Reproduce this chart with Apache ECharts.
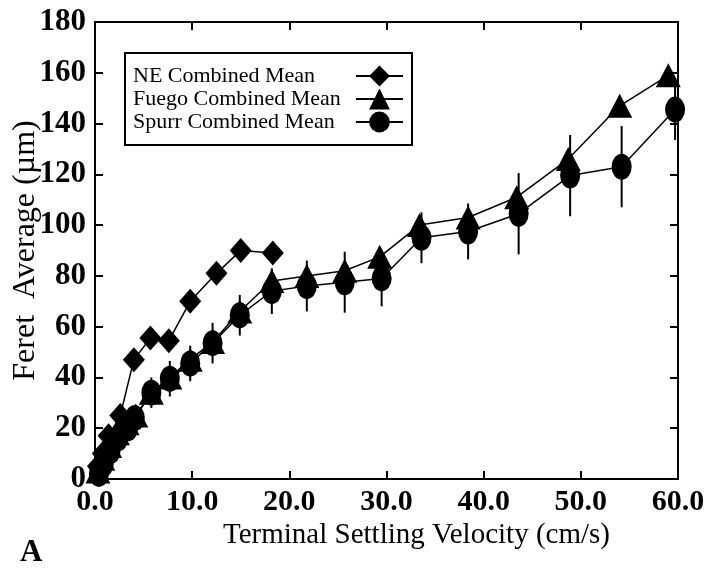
<html>
    <head>
        <meta charset="utf-8">
        <script src="https://cdn.jsdelivr.net/npm/echarts@6/dist/echarts.min.js"></script>
        <style>
            html, body {margin: 0; padding: 0; background: #fff;}
            #main {width: 713px; height: 578px;}
        </style>
    </head>
    <body>
        <div id="main"></div>

        <script>

            // NE Combined Mean
            var neX = [0.3, 0.8, 1.4, 2.6, 4.0, 5.7, 7.6, 9.8, 12.5, 15.0, 18.3];
            var neY = [5, 10, 17, 25, 47, 55.5, 54.5, 70, 81, 90, 89];

            // Fuego Combined Mean
            var fuegoX = [0.3, 0.8, 1.5, 2.3, 3.3, 4.2, 5.8, 7.7, 9.8, 12.1, 14.9, 18.2, 21.8, 25.7, 29.3, 33.4, 38.4, 43.4, 48.7, 54.0, 59.0];
            var fuegoY = [3, 8, 13, 18, 22, 25, 34, 40, 47, 54, 66, 78, 80, 82, 87.5, 100, 103, 111, 126, 147, 159];

            // Spurr Combined Mean (+/- error)
            var spurrX = [0.4, 0.9, 1.6, 2.4, 3.4, 4.1, 5.8, 7.7, 9.8, 12.1, 14.9, 18.2, 21.8, 25.7, 29.5, 33.6, 38.4, 43.6, 48.9, 54.2, 59.7];
            var spurrY = [2, 6, 11, 16, 20, 24, 34, 39.5, 45.5, 53.5, 64.5, 74, 76, 77.5, 79, 95, 97.5, 104.5, 119.5, 123, 145.5];
            var spurrErr = [2, 3, 3, 4, 4, 5, 6, 7, 7, 8, 8, 9, 10, 12, 11, 10, 11, 16, 16, 16, 12];

            var names = ['NE Combined Mean', 'Fuego Combined Mean', 'Spurr Combined Mean'];

            function pairs(xs, ys) {
                return xs.map(function (x, i) { return [x, ys[i]]; });
            }

            var chart = echarts.init(document.getElementById('main'));

            var font = 'Liberation Serif';
            var lineStyle = {color: '#000', width: 1.5};

            var axisCommon = {
                axisLine: {onZero: false, lineStyle: {color: '#000', width: 2}},
                axisTick: {inside: true, length: 8, lineStyle: {color: '#000', width: 2}},
                splitLine: {show: false}
            };

            chart.setOption({
                animation: false,
                backgroundColor: '#fff',
                textStyle: {fontFamily: font, color: '#000'},
                grid: {left: 95, right: 35, top: 22, bottom: 99, containLabel: false, outerBoundsMode: 'none'},
                legend: {
                    orient: 'vertical',
                    left: 125,
                    top: 53,
                    align: 'right',
                    data: names,
                    itemWidth: 47,
                    itemHeight: 26,
                    itemGap: 1,
                    padding: [12, 8, 12, 8],
                    borderColor: '#000',
                    borderWidth: 2,
                    formatter: function (name) { return '{t|' + name + '}'; },
                    textStyle: {
                        fontFamily: font, fontSize: 22, color: '#000',
                        rich: {t: {fontFamily: font, fontSize: 22, color: '#000', width: 218, align: 'left'}}
                    }
                },
                xAxis: [
                    Object.assign({
                        type: 'value', min: 0, max: 60, interval: 10,
                        name: 'Terminal Settling Velocity (cm/s)',
                        nameLocation: 'middle',
                        nameMoveOverlap: false,
                        nameGap: 42,
                        nameTextStyle: {fontFamily: font, fontSize: 29, color: '#000', padding: [0, 0, 0, 60]},
                        axisLabel: {
                            fontFamily: font, fontSize: 30, fontWeight: 'bold', color: '#000', margin: 8,
                            formatter: function (v) { return v.toFixed(1); }
                        }
                    }, axisCommon),
                    Object.assign({
                        type: 'value', min: 0, max: 60, interval: 10, position: 'top',
                        axisLabel: {show: false}
                    }, axisCommon)
                ],
                yAxis: [
                    Object.assign({
                        type: 'value', min: 0, max: 180, interval: 20,
                        name: 'Feret  Average (\u00b5m)',
                        nameLocation: 'middle',
                        nameMoveOverlap: false,
                        nameGap: 53,
                        nameTextStyle: {fontFamily: font, fontSize: 32, color: '#000'},
                        axisLabel: {fontFamily: font, fontSize: 31, fontWeight: 'bold', color: '#000', margin: 9}
                    }, axisCommon),
                    Object.assign({
                        type: 'value', min: 0, max: 180, interval: 20, position: 'right',
                        axisLabel: {show: false}
                    }, axisCommon)
                ],
                graphic: [
                    {
                        type: 'text', left: 20, top: 537,
                        style: {text: 'A', font: 'bold 31px "Liberation Serif"', fill: '#000'}
                    }
                ],
                series: [
                    {
                        name: 'Spurr error',
                        type: 'custom',
                        data: spurrX.map(function (x, i) { return [x, spurrY[i] - spurrErr[i], spurrY[i] + spurrErr[i]]; }),
                        renderItem: function (params, api) {
                            var lo = api.coord([api.value(0), api.value(1)]);
                            var hi = api.coord([api.value(0), api.value(2)]);
                            return {
                                type: 'line',
                                shape: {x1: lo[0], y1: lo[1], x2: hi[0], y2: hi[1]},
                                style: {stroke: '#000', lineWidth: 2}
                            };
                        },
                        z: 1
                    },
                    {
                        name: names[0],
                        type: 'line',
                        data: pairs(neX, neY),
                        symbol: 'diamond',
                        symbolSize: [22, 25],
                        itemStyle: {color: '#000'},
                        lineStyle: lineStyle,
                        z: 3
                    },
                    {
                        name: names[1],
                        type: 'line',
                        data: pairs(fuegoX, fuegoY),
                        symbol: 'triangle',
                        symbolSize: [25, 24],
                        itemStyle: {color: '#000'},
                        lineStyle: lineStyle,
                        z: 3
                    },
                    {
                        name: names[2],
                        type: 'line',
                        data: pairs(spurrX, spurrY),
                        symbol: 'circle',
                        symbolSize: [20, 26],
                        itemStyle: {color: '#000'},
                        lineStyle: lineStyle,
                        z: 3
                    }
                ]
            });

        </script>
    </body>
</html>
